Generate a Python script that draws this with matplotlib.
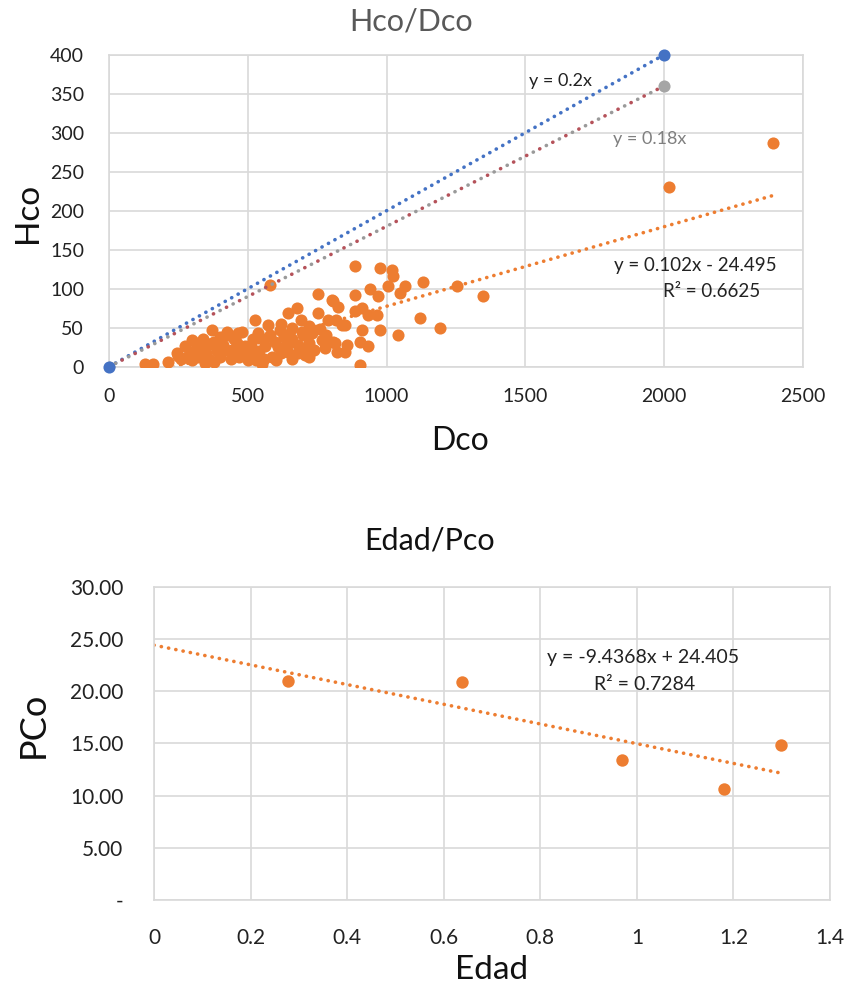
import matplotlib
matplotlib.use("Agg")
import matplotlib.pyplot as plt
import numpy as np

plt.rcParams['font.family'] = ['Lato', 'DejaVu Sans']

# ---------------- data: top chart (Hco vs Dco) ----------------
dco = [130, 160, 214, 244, 274, 298, 370, 424, 260, 300, 330, 350, 320, 280, 360, 390, 340, 310, 380, 400,
       580, 754, 676, 646, 802, 826, 754, 790, 838, 526, 574, 616, 466, 430, 538, 694, 730, 766, 814, 658,
       598, 562, 490, 442, 526, 586, 646, 706, 550, 850, 778,
       460, 500, 520, 610, 630, 680, 720, 740, 470, 600, 660, 700, 540, 580, 450, 410, 620, 690, 720, 660,
       560, 640, 500, 480, 760, 780, 700,
       290, 320, 350, 370, 400, 420, 440, 460, 510, 530, 560, 620, 650, 680, 720, 250, 345, 380,
       886, 976, 1018, 1024, 1132, 1252, 1006, 1066, 1048, 940, 970, 886, 808, 910, 886, 964, 934, 818, 850,
       910, 976, 1042, 1120, 1192, 808, 856, 904, 934, 820, 904, 1346,
       2017, 2392]
hco = [4, 4, 6, 17, 26, 34, 47, 45, 10, 8, 15, 25, 30, 12, 10, 20, 36, 22, 32, 12,
       105, 93, 75, 69, 86, 77, 69, 60, 54, 60, 54, 47, 43, 41, 43, 45, 43, 34, 30, 36,
       32, 26, 26, 21, 15, 13, 19, 15, 4, 19, 24,
       30, 18, 35, 25, 38, 28, 30, 22, 12, 8, 10, 40, 20, 40, 35, 28, 55, 60, 52, 50,
       10, 28, 8, 45, 48, 40, 22,
       18, 12, 18, 30, 38, 22, 10, 20, 28, 8, 35, 18, 42, 18, 12, 14, 5, 6,
       129, 126, 124, 116, 109, 103, 103, 103, 94, 99, 90, 92, 84, 75, 71, 66, 66, 60, 54,
       47, 47, 41, 62, 50, 32, 28, 32, 26, 19, 2, 90,
       230, 287]

ref_x = [0, 2000]
ref_02 = [0, 400]
ref_018 = [0, 360]
top_slope, top_inter = 0.102, -24.495

# ---------------- data: bottom chart (PCo vs Edad) ----------------
edad = [0.278, 0.637, 0.970, 1.181, 1.299]
pco = [21.0, 20.84, 13.44, 10.61, 14.82]
bot_slope, bot_inter = -9.4368, 24.405

ORANGE = '#ED7D31'
BLUE = '#4472C4'
GRAY = '#A5A5A5'
GRID = '#D9D9D9'

fig = plt.figure(figsize=(8.5, 9.88), dpi=100)

LW = 2.6
dot = dict(linestyle=(0, (0.05, 2.0)), dash_capstyle='round', linewidth=LW)

# ---------------- top axes ----------------
ax1 = fig.add_axes([109/850, 1-366.7/988, (803-109)/850, (366.7-54.7)/988])
ax1.set_xlim(0, 2500)
ax1.set_ylim(0, 400)
ax1.set_xticks(np.arange(0, 2501, 500))
ax1.set_yticks(np.arange(0, 401, 50))
ax1.grid(True, color=GRID, linewidth=1.2)
ax1.set_axisbelow(True)
for s in ax1.spines.values():
    s.set_color(GRID)
    s.set_linewidth(1.2)
ax1.tick_params(length=0, labelsize=14, colors='#222222')
ax1.tick_params(axis='x', pad=15)
ax1.tick_params(axis='y', pad=18)

xt = np.array([min(dco), max(dco)])
ax1.plot(xt, top_slope*xt + top_inter, color=ORANGE, **dot, zorder=2)
ax1.scatter(dco, hco, s=76, color=ORANGE, zorder=3, linewidths=0)
ax1.plot(ref_x, ref_02, color=BLUE, **dot, zorder=4)
# 0.18x line: alternating red / gray dots
ax1.plot(ref_x, ref_018, color='#B5525A', linestyle=(0, (0.05, 4.0)),
         dash_capstyle='round', linewidth=LW, zorder=4)
ax1.plot(ref_x, ref_018, color='#9A9A9A', linestyle=(2.0, (0.05, 4.0)),
         dash_capstyle='round', linewidth=LW, zorder=4)
ax1.scatter(ref_x, ref_018, s=76, color=GRAY, zorder=5, linewidths=0)
ax1.scatter(ref_x, ref_02, s=76, color=BLUE, zorder=6, linewidths=0, clip_on=False)

ax1.text(1625, 366, 'y = 0.2x', fontsize=13, ha='center', va='center', color='#222222')
ax1.text(1949, 292, 'y = 0.18x', fontsize=13, ha='center', va='center', color='#7F7F7F')
ax1.text(2111, 130, 'y = 0.102x - 24.495', fontsize=13.5, ha='center', va='center', color='#222222')
ax1.text(2172, 96, 'R² = 0.6625', fontsize=13.5, ha='center', va='center', color='#222222')

fig.text(411/850, 1-21/988, 'Hco/Dco', fontsize=22, ha='center', va='center', color='#595959')
fig.text(460/850, 1-441/988, 'Dco', fontsize=23, ha='center', va='center', color='#111111')
fig.text(28/850, 1-213/988, 'Hco', fontsize=24, ha='center', va='center', rotation=90, color='#111111')

# ---------------- bottom axes ----------------
ax2 = fig.add_axes([154/850, 1-900/988, (830-154)/850, (900-586.7)/988])
ax2.set_xlim(0, 1.4)
ax2.set_ylim(0, 30)
ax2.set_xticks(np.arange(0, 1.41, 0.2))
ax2.set_xticklabels(['0', '0.2', '0.4', '0.6', '0.8', '1', '1.2', '1.4'])
ax2.set_yticks(np.arange(0, 31, 5))
ax2.set_yticklabels(['-', '5.00', '10.00', '15.00', '20.00', '25.00', '30.00'])
ax2.grid(True, color=GRID, linewidth=1.2)
ax2.set_axisbelow(True)
for s in ax2.spines.values():
    s.set_color(GRID)
    s.set_linewidth(1.2)
ax2.tick_params(length=0, labelsize=15, colors='#222222')
ax2.tick_params(axis='x', pad=20)
ax2.tick_params(axis='y', pad=22)

xb = np.array([0, max(edad)])
ax2.plot(xb, bot_slope*xb + bot_inter, color=ORANGE, **dot, zorder=2)
ax2.scatter(edad, pco, s=80, color=ORANGE, zorder=3, linewidths=0)
ax2.text(1.013, 23.25, 'y = -9.4368x + 24.405', fontsize=14, ha='center', va='center', color='#222222')
ax2.text(1.015, 20.67, 'R² = 0.7284', fontsize=14, ha='center', va='center', color='#222222')

fig.text(430/850, 1-540/988, 'Edad/Pco', fontsize=22, ha='center', va='center', color='#111111')
fig.text(492/850, 1-970/988, 'Edad', fontsize=24, ha='center', va='center', color='#111111')
fig.text(33/850, 1-725/988, 'PCo', fontsize=26, ha='center', va='center', rotation=90, color='#111111')

fig.savefig('out.png', dpi=100)
